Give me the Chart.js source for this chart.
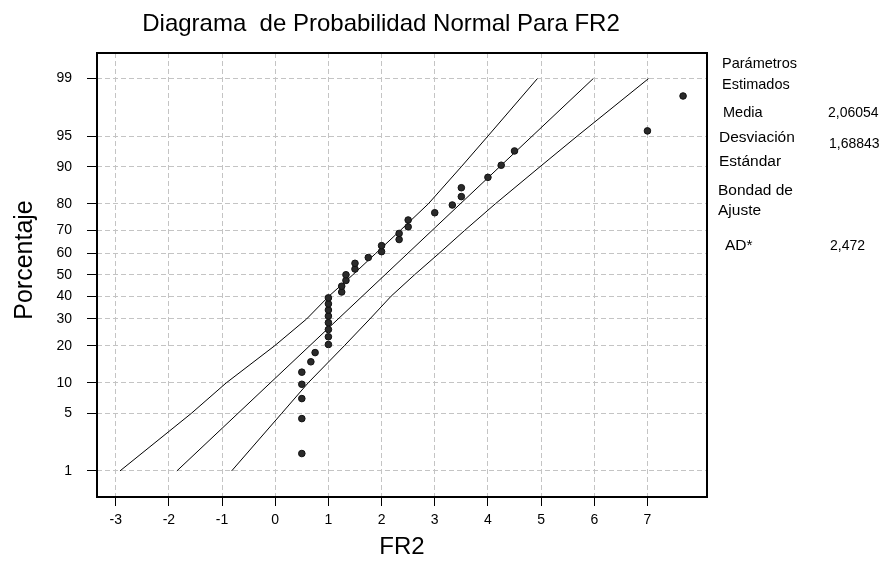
<!DOCTYPE html>
<html>
<head>
<meta charset="utf-8">
<script src="https://cdn.jsdelivr.net/npm/chart.js@4.4.0/dist/chart.umd.min.js"></script>
<style>
  html, body { margin: 0; padding: 0; background: #ffffff; }
  #wrap { width: 882px; height: 562px; position: relative; }
</style>
</head>
<body>
<div id="wrap"><canvas id="c" width="882" height="562"></canvas></div>
<script>
// ---------- data ----------
const obsX = [0.5, 0.5, 0.5, 0.5, 0.5, 0.67, 0.75, 1, 1, 1, 1, 1, 1, 1, 1,
  1.25, 1.25, 1.33, 1.33, 1.5, 1.5, 1.75, 2, 2, 2.33, 2.33, 2.5, 2.5,
  3, 3.33, 3.5, 3.5, 4, 4.25, 4.5, 7, 7.67];
const obsPct = [1.7, 4.4, 7.1, 9.7, 12.4, 15.1, 17.8, 20.4, 23.1, 25.8, 28.5, 31.2,
  33.8, 36.5, 39.2, 41.9, 44.6, 47.3, 50.0, 52.7, 55.4, 58.1, 60.8, 63.5, 66.2,
  68.8, 71.5, 74.2, 76.9, 79.6, 82.3, 84.9, 87.6, 90.3, 92.9, 95.6, 98.3];

const fitPct = [1, 99];
const fitX = [-1.85, 5.98];

const bandPct = [1, 5, 10, 20, 30, 40, 50, 60, 70, 80, 90, 95, 99];
const bandLeftX = [-2.92, -1.58, -0.92, -0.01, 0.59, 1.01, 1.46, 1.89, 2.35, 2.88, 3.50, 4.00, 4.93];
const bandRightX = [-0.82, 0.12, 0.62, 1.30, 1.78, 2.18, 2.62, 3.08, 3.56, 4.14, 4.98, 5.68, 7.02];

const xTicks = [-3, -2, -1, 0, 1, 2, 3, 4, 5, 6, 7];
const yTickPct = [1, 5, 10, 20, 30, 40, 50, 60, 70, 80, 90, 95, 99];

const titleText = 'Diagrama  de Probabilidad Normal Para FR2';
const xTitle = 'FR2';
const yTitle = 'Porcentaje';
const panelLabels = ['Parámetros', 'Estimados', 'Media', 'Desviación', 'Estándar', 'Bondad de', 'Ajuste', 'AD*'];
const panelValues = ['2,06054', '1,68843', '2,472'];

// ---------- normal probability (probit) transform for the y axis ----------
function probit(p) {
  const a = [-3.969683028665376e+01, 2.209460984245205e+02, -2.759285104469687e+02, 1.383577518672690e+02, -3.066479806614716e+01, 2.506628277459239e+00];
  const b = [-5.447609879822406e+01, 1.615858368580409e+02, -1.556989798598866e+02, 6.680131188771972e+01, -1.328068155288572e+01];
  const c = [-7.784894002430293e-03, -3.223964580411365e-01, -2.400758277161838e+00, -2.549732539343734e+00, 4.374664141464968e+00, 2.938163982698783e+00];
  const d = [7.784695709041462e-03, 3.224671290700398e-01, 2.445134137142996e+00, 3.754408661907416e+00];
  const pl = 0.02425, ph = 1 - pl;
  let q, r;
  if (p < pl) {
    q = Math.sqrt(-2 * Math.log(p));
    return (((((c[0]*q+c[1])*q+c[2])*q+c[3])*q+c[4])*q+c[5]) / ((((d[0]*q+d[1])*q+d[2])*q+d[3])*q+1);
  }
  if (p <= ph) {
    q = p - 0.5; r = q * q;
    return (((((a[0]*r+a[1])*r+a[2])*r+a[3])*r+a[4])*r+a[5])*q / (((((b[0]*r+b[1])*r+b[2])*r+b[3])*r+b[4])*r+1);
  }
  q = Math.sqrt(-2 * Math.log(1 - p));
  return -(((((c[0]*q+c[1])*q+c[2])*q+c[3])*q+c[4])*q+c[5]) / ((((d[0]*q+d[1])*q+d[2])*q+d[3])*q+1);
}
const toPts = (xs, ps) => xs.map((x, i) => ({ x: x, y: probit(ps[i] / 100) }));

const FONT = '"Liberation Sans", Arial, sans-serif';

const textPlugin = {
  id: 'texts',
  beforeDatasetsDraw(chart) {
    const { ctx, chartArea: ca } = chart;
    ctx.save();
    ctx.strokeStyle = '#000';
    ctx.lineWidth = 2;
    ctx.strokeRect(ca.left, ca.top, ca.right - ca.left, ca.bottom - ca.top);
    ctx.restore();
  },
  afterDraw(chart) {
    const { ctx } = chart;
    ctx.save();
    ctx.fillStyle = '#000';
    ctx.textBaseline = 'alphabetic';
    // main title
    ctx.font = '24px ' + FONT;
    ctx.textAlign = 'center';
    ctx.fillText(titleText, 381, 31);
    // y title
    ctx.save();
    ctx.translate(32, 260);
    ctx.rotate(-Math.PI / 2);
    ctx.font = '25px ' + FONT;
    ctx.textAlign = 'center';
    ctx.fillText(yTitle, 0, 0);
    ctx.restore();
    // side panel
    ctx.textAlign = 'left';
    ctx.font = '14.5px ' + FONT;
    ctx.fillText(panelLabels[0], 722, 68);
    ctx.fillText(panelLabels[1], 722, 89);
    ctx.fillText(panelLabels[2], 723, 117);
    ctx.font = '15.5px ' + FONT;
    ctx.fillText(panelLabels[3], 719, 142);
    ctx.fillText(panelLabels[4], 719, 166);
    ctx.fillText(panelLabels[5], 718, 195);
    ctx.fillText(panelLabels[6], 718, 215);
    ctx.fillText(panelLabels[7], 725, 250);
    ctx.font = '14px ' + FONT;
    ctx.fillText(panelValues[0], 828, 117);
    ctx.fillText(panelValues[1], 829, 148);
    ctx.fillText(panelValues[2], 830, 250);
    ctx.restore();
  }
};

const lineDs = (data) => ({
  type: 'scatter', data: data, showLine: true, borderColor: '#000', borderWidth: 1,
  pointRadius: 0, fill: false, tension: 0, order: 2
});

new Chart(document.getElementById('c'), {
  type: 'scatter',
  data: {
    datasets: [
      {
        data: toPts(obsX, obsPct), pointRadius: 3.3, pointBackgroundColor: '#2a2a2a',
        pointBorderColor: '#111', pointBorderWidth: 1, showLine: false, order: 1
      },
      lineDs(toPts(fitX, fitPct)),
      lineDs(toPts(bandLeftX, bandPct)),
      lineDs(toPts(bandRightX, bandPct))
    ]
  },
  options: {
    responsive: false,
    animation: false,
    layout: { padding: { left: 0, right: 175, top: 53, bottom: 0 } },
    plugins: { legend: { display: false }, title: { display: false }, tooltip: { enabled: false } },
    scales: {
      x: {
        type: 'linear', min: -3.352, max: 8.12,
        afterBuildTicks: (s) => { s.ticks = xTicks.map(v => ({ value: v })); },
        afterFit: (s) => { s.height = 65; },
        grid: { color: '#c4c4c4', lineWidth: 1, tickColor: '#000', tickLength: 9, tickBorderDash: [], tickWidth: 1 },
        border: { display: false, dash: [5, 3] },
        ticks: { color: '#000', font: { family: FONT, size: 14 }, padding: 6, maxRotation: 0, autoSkip: false,
          callback: (v) => String(v) },
        title: { display: true, text: xTitle, color: '#000', font: { family: FONT, size: 24 }, padding: { top: 0, bottom: 0 } }
      },
      y: {
        type: 'linear', min: probit(0.0042), max: probit(0.99573),
        afterBuildTicks: (s) => { s.ticks = yTickPct.map(p => ({ value: probit(p / 100) })); },
        afterFit: (s) => { s.width = 97; },
        grid: { color: '#c4c4c4', lineWidth: 1, tickColor: '#000', tickLength: 10, tickBorderDash: [], tickWidth: 1 },
        border: { display: false, dash: [5, 3] },
        ticks: { color: '#000', font: { family: FONT, size: 14 }, padding: 15, autoSkip: false,
          callback: (v, i) => String(yTickPct[i]) }
      }
    }
  },
  plugins: [textPlugin]
});
</script>
</body>
</html>
